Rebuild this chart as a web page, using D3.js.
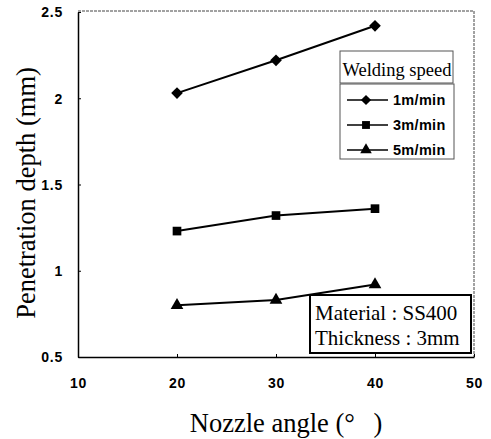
<!DOCTYPE html>
<html>
<head>
<meta charset="utf-8">
<script src="https://cdn.jsdelivr.net/npm/d3@7"></script>
<style>
  html, body { margin: 0; padding: 0; background: #fff; }
  svg { display: block; }
</style>
</head>
<body>
<svg id="chart" width="491" height="439"></svg>
<script>
// Nozzle angle (degrees) on the x axis
const angles = [20, 30, 40];
// Penetration depth (mm) for each welding speed
const depth1 = [2.03, 2.22, 2.42];
const depth3 = [1.23, 1.32, 1.36];
const depth5 = [0.80, 0.83, 0.92];
const seriesNames = ["1m/min", "3m/min", "5m/min"];
const xTicks = [10, 20, 30, 40, 50];
const yTicks = [0.5, 1, 1.5, 2, 2.5];
const yTickLabels = ["0.5", "1", "1.5", "2", "2.5"];

// Marker shapes: diamond (rotated square), square, triangle
const markerTypes = [d3.symbolSquare, d3.symbolSquare, d3.symbolTriangle];
const markerRotate = [45, 0, 0];
const plotSizes = [68, 75, 70];
const legendSizes = [52, 62, 58];

const svg = d3.select("#chart");
const plotL = 78, plotR = 474, plotT = 12, plotB = 357;

const x = d3.scaleLinear().domain([10, 50]).range([plotL, plotR]);
const y = d3.scaleLinear().domain([0.5, 2.5]).range([plotB, plotT]);

// Frame: solid left/bottom, faint dotted top/right
svg.append("line").attr("x1", plotL).attr("x2", plotR).attr("y1", plotT - 1).attr("y2", plotT - 1)
  .attr("stroke", "#444").attr("stroke-width", 1).attr("stroke-dasharray", "3,1");
svg.append("line").attr("x1", plotR).attr("x2", plotR).attr("y1", plotT - 1).attr("y2", plotB)
  .attr("stroke", "#444").attr("stroke-width", 1).attr("stroke-dasharray", "3,1");

const tickFont = "'Liberation Sans', Arial, sans-serif";

const xAxis = svg.append("g").attr("transform", `translate(0,${plotB})`)
  .call(d3.axisBottom(x).tickValues(xTicks).tickSizeInner(-3).tickSizeOuter(0).tickPadding(21));
const yAxis = svg.append("g").attr("transform", `translate(${plotL},0)`)
  .call(d3.axisLeft(y).tickValues(yTicks).tickFormat((d, i) => yTickLabels[i])
    .tickSizeInner(-3).tickSizeOuter(0).tickPadding(15));
[xAxis, yAxis].forEach(g => {
  g.select(".domain").attr("stroke", "#000").attr("stroke-width", 1.5);
  g.selectAll(".tick line").attr("stroke", "#000");
  g.selectAll(".tick text").attr("fill", "#000")
    .style("font-family", tickFont).style("font-size", "14px").style("font-weight", "bold")
    .style("letter-spacing", "0.8px");
});
yAxis.selectAll(".tick text").attr("dy", "0.35em");

function marker(s, size) {
  return d3.symbol().type(markerTypes[s]).size(size)();
}

// Series lines and markers
const allSeries = [depth1, depth3, depth5];
const line = d3.line().x((d, i) => x(angles[i])).y(d => y(d));
allSeries.forEach((vals, s) => {
  svg.append("path").datum(vals).attr("d", line)
    .attr("fill", "none").attr("stroke", "#000").attr("stroke-width", 2);
  svg.selectAll(null).data(vals).enter().append("path")
    .attr("d", marker(s, plotSizes[s]))
    .attr("transform", (d, i) => `translate(${x(angles[i])},${y(d)}) rotate(${markerRotate[s]})`)
    .attr("fill", "#000");
});

const serif = "'Liberation Serif', 'Times New Roman', serif";

// Legend: title box and entries box
const lgX = 340, lgW = 113;
svg.append("rect").attr("x", lgX).attr("y", 51).attr("width", lgW).attr("height", 32)
  .attr("fill", "#fff").attr("stroke", "#555").attr("stroke-width", 1);
svg.append("text").attr("x", lgX + lgW / 2 + 0.5).attr("y", 76).attr("text-anchor", "middle")
  .style("font-family", serif).style("font-size", "18.5px")
  .text("Welding speed");
svg.append("rect").attr("x", lgX).attr("y", 84).attr("width", lgW + 1).attr("height", 75)
  .attr("fill", "#fff").attr("stroke", "#555").attr("stroke-width", 1);
const entryY = [100, 125, 150];
seriesNames.forEach((name, s) => {
  svg.append("line").attr("x1", 347).attr("x2", 388).attr("y1", entryY[s]).attr("y2", entryY[s])
    .attr("stroke", "#000").attr("stroke-width", 1.5);
  svg.append("path")
    .attr("d", marker(s, legendSizes[s]))
    .attr("transform", `translate(366,${entryY[s]}) rotate(${markerRotate[s]})`).attr("fill", "#000");
  svg.append("text").attr("x", 393).attr("y", entryY[s]).attr("dy", "0.36em")
    .style("font-family", tickFont)
    .style("font-size", "14.5px").style("font-weight", "bold").style("letter-spacing", "0.3px")
    .text(name);
});

// Specimen note box
svg.append("rect").attr("x", 310).attr("y", 295).attr("width", 161).attr("height", 58)
  .attr("fill", "#fff").attr("stroke", "#000").attr("stroke-width", 2);
svg.append("text").attr("x", 315).attr("y", 320).style("font-family", serif).style("font-size", "21px")
  .text("Material : SS400");
svg.append("text").attr("x", 315).attr("y", 345).style("font-family", serif).style("font-size", "21px")
  .text("Thickness : 3mm");

// Axis titles
svg.append("text").attr("x", 286).attr("y", 432).attr("text-anchor", "middle")
  .style("font-family", serif).style("font-size", "26.5px")
  .text("Nozzle angle (°\u2002\u2009)");
svg.append("text").attr("transform", "translate(35,193) rotate(-90)").attr("text-anchor", "middle")
  .style("font-family", serif).style("font-size", "26.5px")
  .text("Penetration depth (mm)");
</script>
</body>
</html>
